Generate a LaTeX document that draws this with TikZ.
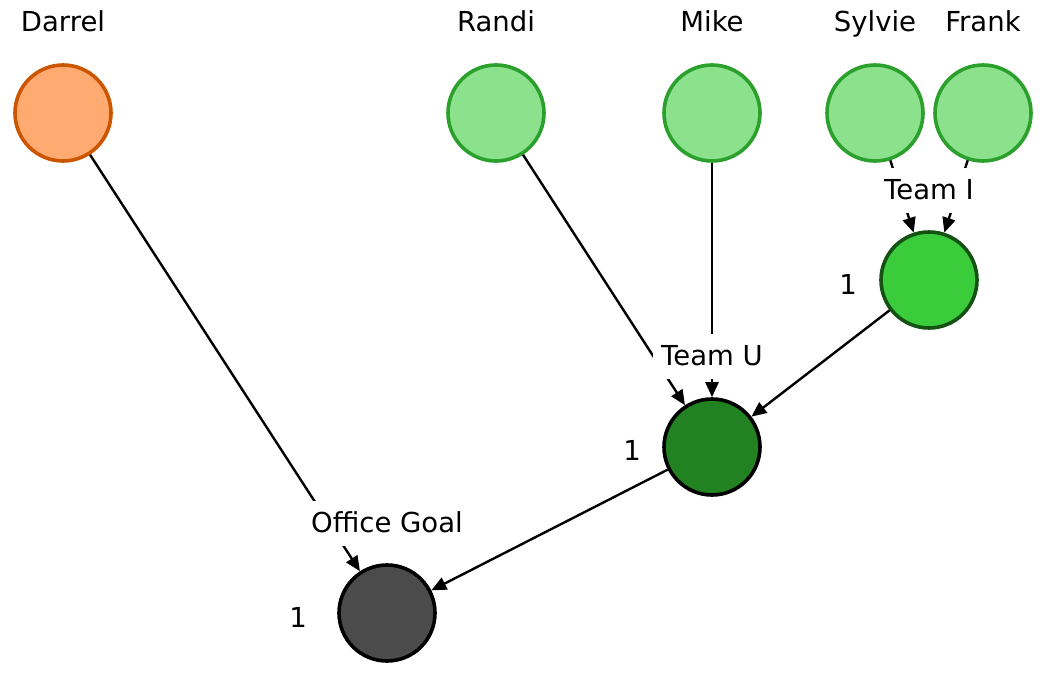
\documentclass[tikz,border=0pt]{standalone}
\usepackage{fontspec}
\setmainfont{DejaVu Sans}
\usetikzlibrary{arrows.meta}
\definecolor{orfill}{RGB}{255,170,112}
\definecolor{orline}{RGB}{204,85,0}
\definecolor{lgfill}{RGB}{140,226,140}
\definecolor{lgline}{RGB}{44,160,44}
\definecolor{tifill}{RGB}{58,204,58}
\definecolor{tiline}{RGB}{20,82,20}
\definecolor{tufill}{RGB}{34,130,34}
\definecolor{ogfill}{RGB}{75,75,75}
\tikzset{
  person/.style={circle,minimum size=96pt,inner sep=0pt,line width=3.6pt},
  txt/.style={font=\fontsize{27.5}{30}\selectfont,anchor=base,inner sep=0pt},
  elabel/.style={font=\fontsize{27.5}{30}\selectfont,anchor=base,fill=white,
    inner xsep=8pt,inner ysep=10pt,text height=21pt,text depth=3.5pt},
  conn/.style={line width=2.4pt,-{Triangle[length=15pt,width=13pt]}}
}
\begin{document}
\begin{tikzpicture}[x=1pt,y=-1pt]
\useasboundingbox (0,0) rectangle (1046,677);
% nodes
\node[person,draw=orline,fill=orfill] (darrel) at (63,113) {};
\node[person,draw=lgline,fill=lgfill] (randi) at (496,113) {};
\node[person,draw=lgline,fill=lgfill] (mike) at (712,113) {};
\node[person,draw=lgline,fill=lgfill] (sylvie) at (875,113) {};
\node[person,draw=lgline,fill=lgfill] (frank) at (983,113) {};
\node[person,draw=tiline,fill=tifill] (teami) at (929,280) {};
\node[person,draw=black,fill=tufill] (teamu) at (712,447) {};
\node[person,draw=black,fill=ogfill] (office) at (387,613) {};
% names
\node[txt] (ldarrel) at (63,32) {Darrel};
\node[txt] (lrandi) at (496,32) {Randi};
\node[txt] (lmike) at (712,32) {Mike};
\node[txt] (lsylvie) at (875,32) {Sylvie};
\node[txt] (lfrank) at (983,32) {Frank};
% weights
\node[txt] (wi) at (848,294) {1};
\node[txt] (wu) at (632,460) {1};
\node[txt] (wo) at (298,627) {1};
% edges
\draw[conn] (darrel) -- (office);
\draw[conn] (randi) -- (teamu);
\draw[conn] (mike) -- (teamu);
\draw[conn] (teami) -- (teamu);
\draw[conn] (teamu) -- (office);
\draw[conn] (sylvie) -- (teami);
\draw[conn] (frank) -- (teami);
% edge labels
\node[elabel] (lteami) at (929,199) {Team I};
\node[elabel] (lteamu) at (712,365) {Team U};
\node[elabel] (loffice) at (387,532) {Office Goal};
\end{tikzpicture}
\end{document}
